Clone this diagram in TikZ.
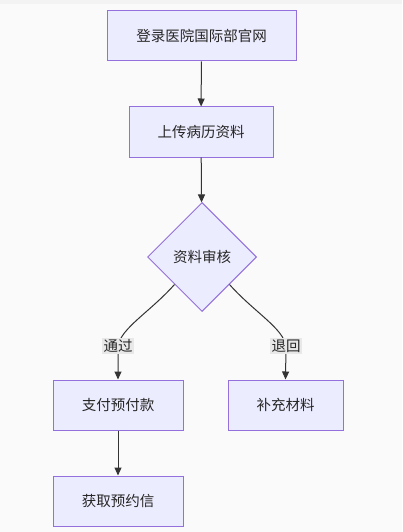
\documentclass[tikz,border=0pt]{standalone}
\usepackage{fontspec}
\setmainfont{Noto Sans CJK SC}
\usetikzlibrary{shapes.geometric,arrows.meta}
\definecolor{nodefill}{HTML}{ECECFF}
\definecolor{nodeline}{HTML}{9370DB}
\definecolor{flowline}{HTML}{333333}
\definecolor{labelfill}{HTML}{E8E8E8}
\definecolor{pagebg}{HTML}{FAFAFA}
\definecolor{topbar}{HTML}{F3F3F3}
\tikzset{
  stepbox/.style={draw=nodeline,fill=nodefill,line width=1pt,minimum height=50pt,font=\fontsize{14.5}{16}\selectfont,text=black!85},
  checkbox/.style={diamond,draw=nodeline,fill=nodefill,line width=1pt,minimum size=109pt,inner sep=0pt,font=\fontsize{14.5}{16}\selectfont,text=black!85},
  flow/.style={draw=flowline,line width=1pt,-{Triangle[length=8pt,width=7pt]}},
  edgetext/.style={fill=labelfill,inner sep=1.5pt,font=\fontsize{14.5}{16}\selectfont,text=black!85}
}
\begin{document}
\begin{tikzpicture}[x=1pt,y=-1pt]
            \fill[pagebg] (0,0) rectangle (402,532);
            \fill[topbar] (0,0) rectangle (402,4);
            \useasboundingbox (0,0) rectangle (402,532);
            \node[stepbox,minimum width=189pt] (web) at (201.5,36) {登录医院国际部官网};
            \node[stepbox,minimum width=144pt] (upload) at (201,132) {上传病历资料};
            \node[checkbox] (review) at (202,257) {资料审核};
            \node[stepbox,minimum width=130pt] (pay) at (118,405) {支付预付款};
            \node[stepbox,minimum width=115pt] (supply) at (285.5,405) {补充材料};
            \node[stepbox,minimum width=130pt] (letter) at (118,501) {获取预约信};
            % bends of the two branches
            \coordinate (passbend) at (118,346);
            \coordinate (backbend) at (286,346);
            \draw[flow] (web) -- (upload);
            \draw[flow] (upload) -- (review);
            \draw[flow] (review.south west) .. controls (150,312) and (121,328) .. (passbend) node[edgetext] {通过} -- (pay.north);
            \draw[flow] (review.south east) .. controls (254,312) and (283,328) .. (backbend) node[edgetext] {退回} -- (supply.north);
            \draw[flow] (pay) -- (letter);
        \end{tikzpicture}
\end{document}
